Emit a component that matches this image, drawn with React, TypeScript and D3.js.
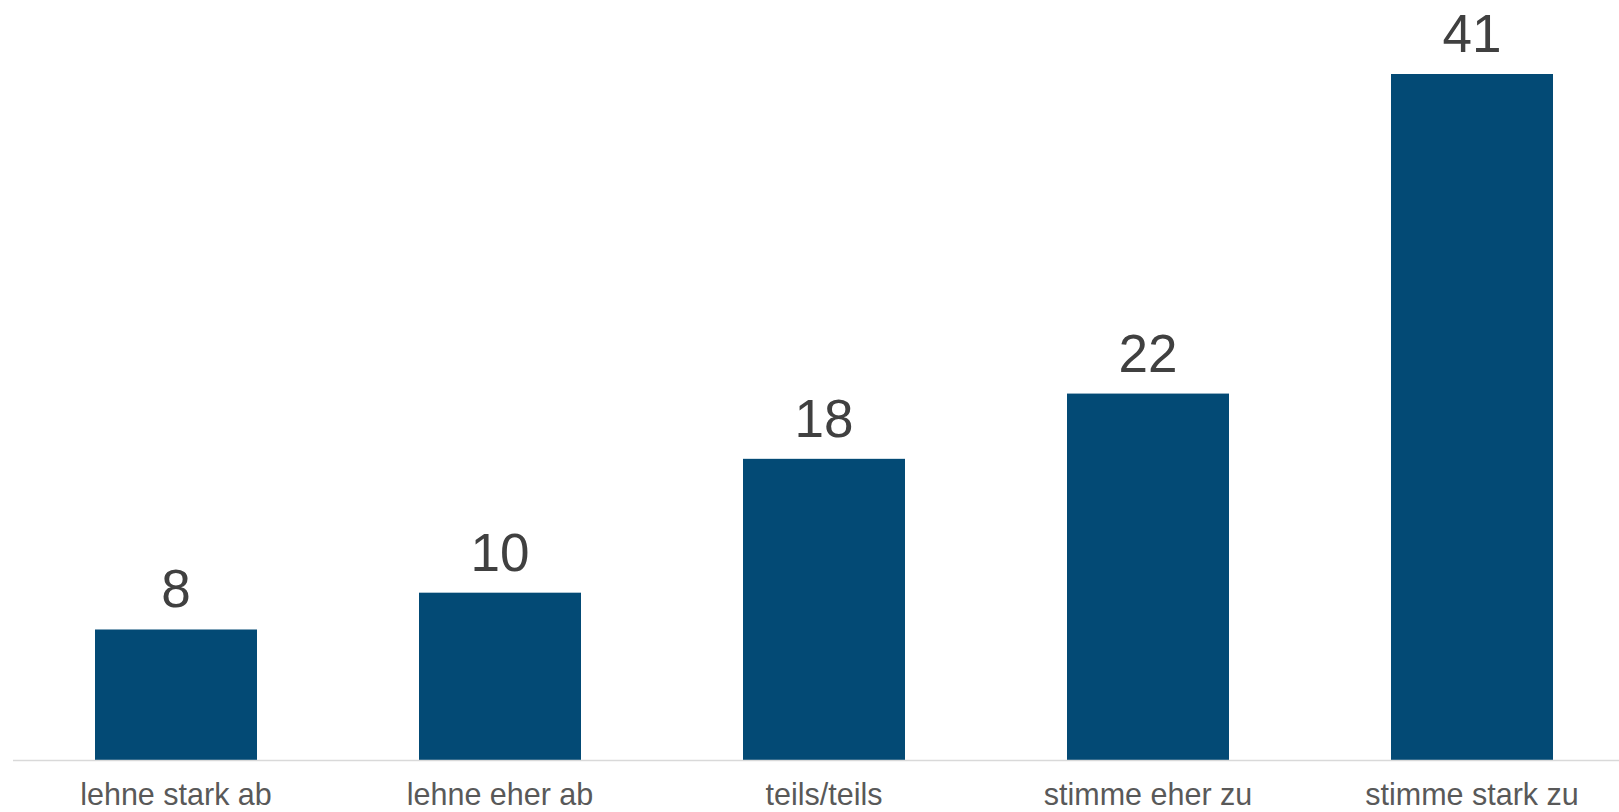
import React from "react";
import * as d3 from "d3";

const categories = ["lehne stark ab", "lehne eher ab", "teils/teils", "stimme eher zu", "stimme stark zu"];
const values = [7.8, 10.0, 18.0, 21.9, 41.0];

const W = 1619;
const H = 812;

export default function App() {
  const x = d3.scaleBand<string>().domain(categories).range([14, 1634]).paddingInner(0.5).paddingOuter(0.25);
  const y = d3.scaleLinear().domain([0, 41]).range([760, 74]);
  const fmt = d3.format(".0f");
  return (
    <svg width={W} height={H} style={{ position: "absolute", left: 0, top: 0, background: "#fff" }}>
      {categories.map((c, i) => (
        <rect key={c} x={x(c)} y={y(values[i])} width={x.bandwidth()} height={y(0) - y(values[i])} fill="#034A75" />
      ))}
      <line x1={13} x2={W} y1={760.5} y2={760.5} stroke="#D9D9D9" strokeWidth={1.5} />
      {categories.map((c, i) => (
        <text key={"v" + c} x={x(c)! + x.bandwidth() / 2} y={y(values[i]) - 22} textAnchor="middle"
          fontFamily="Liberation Sans, Arial, sans-serif" fontSize={53} fill="#404040">
          {fmt(values[i])}
        </text>
      ))}
      {categories.map((c) => (
        <text key={"c" + c} x={x(c)! + x.bandwidth() / 2} y={805} textAnchor="middle"
          fontFamily="Liberation Sans, Arial, sans-serif" fontSize={30.5} fill="#595959">
          {c}
        </text>
      ))}
    </svg>
  );
}
